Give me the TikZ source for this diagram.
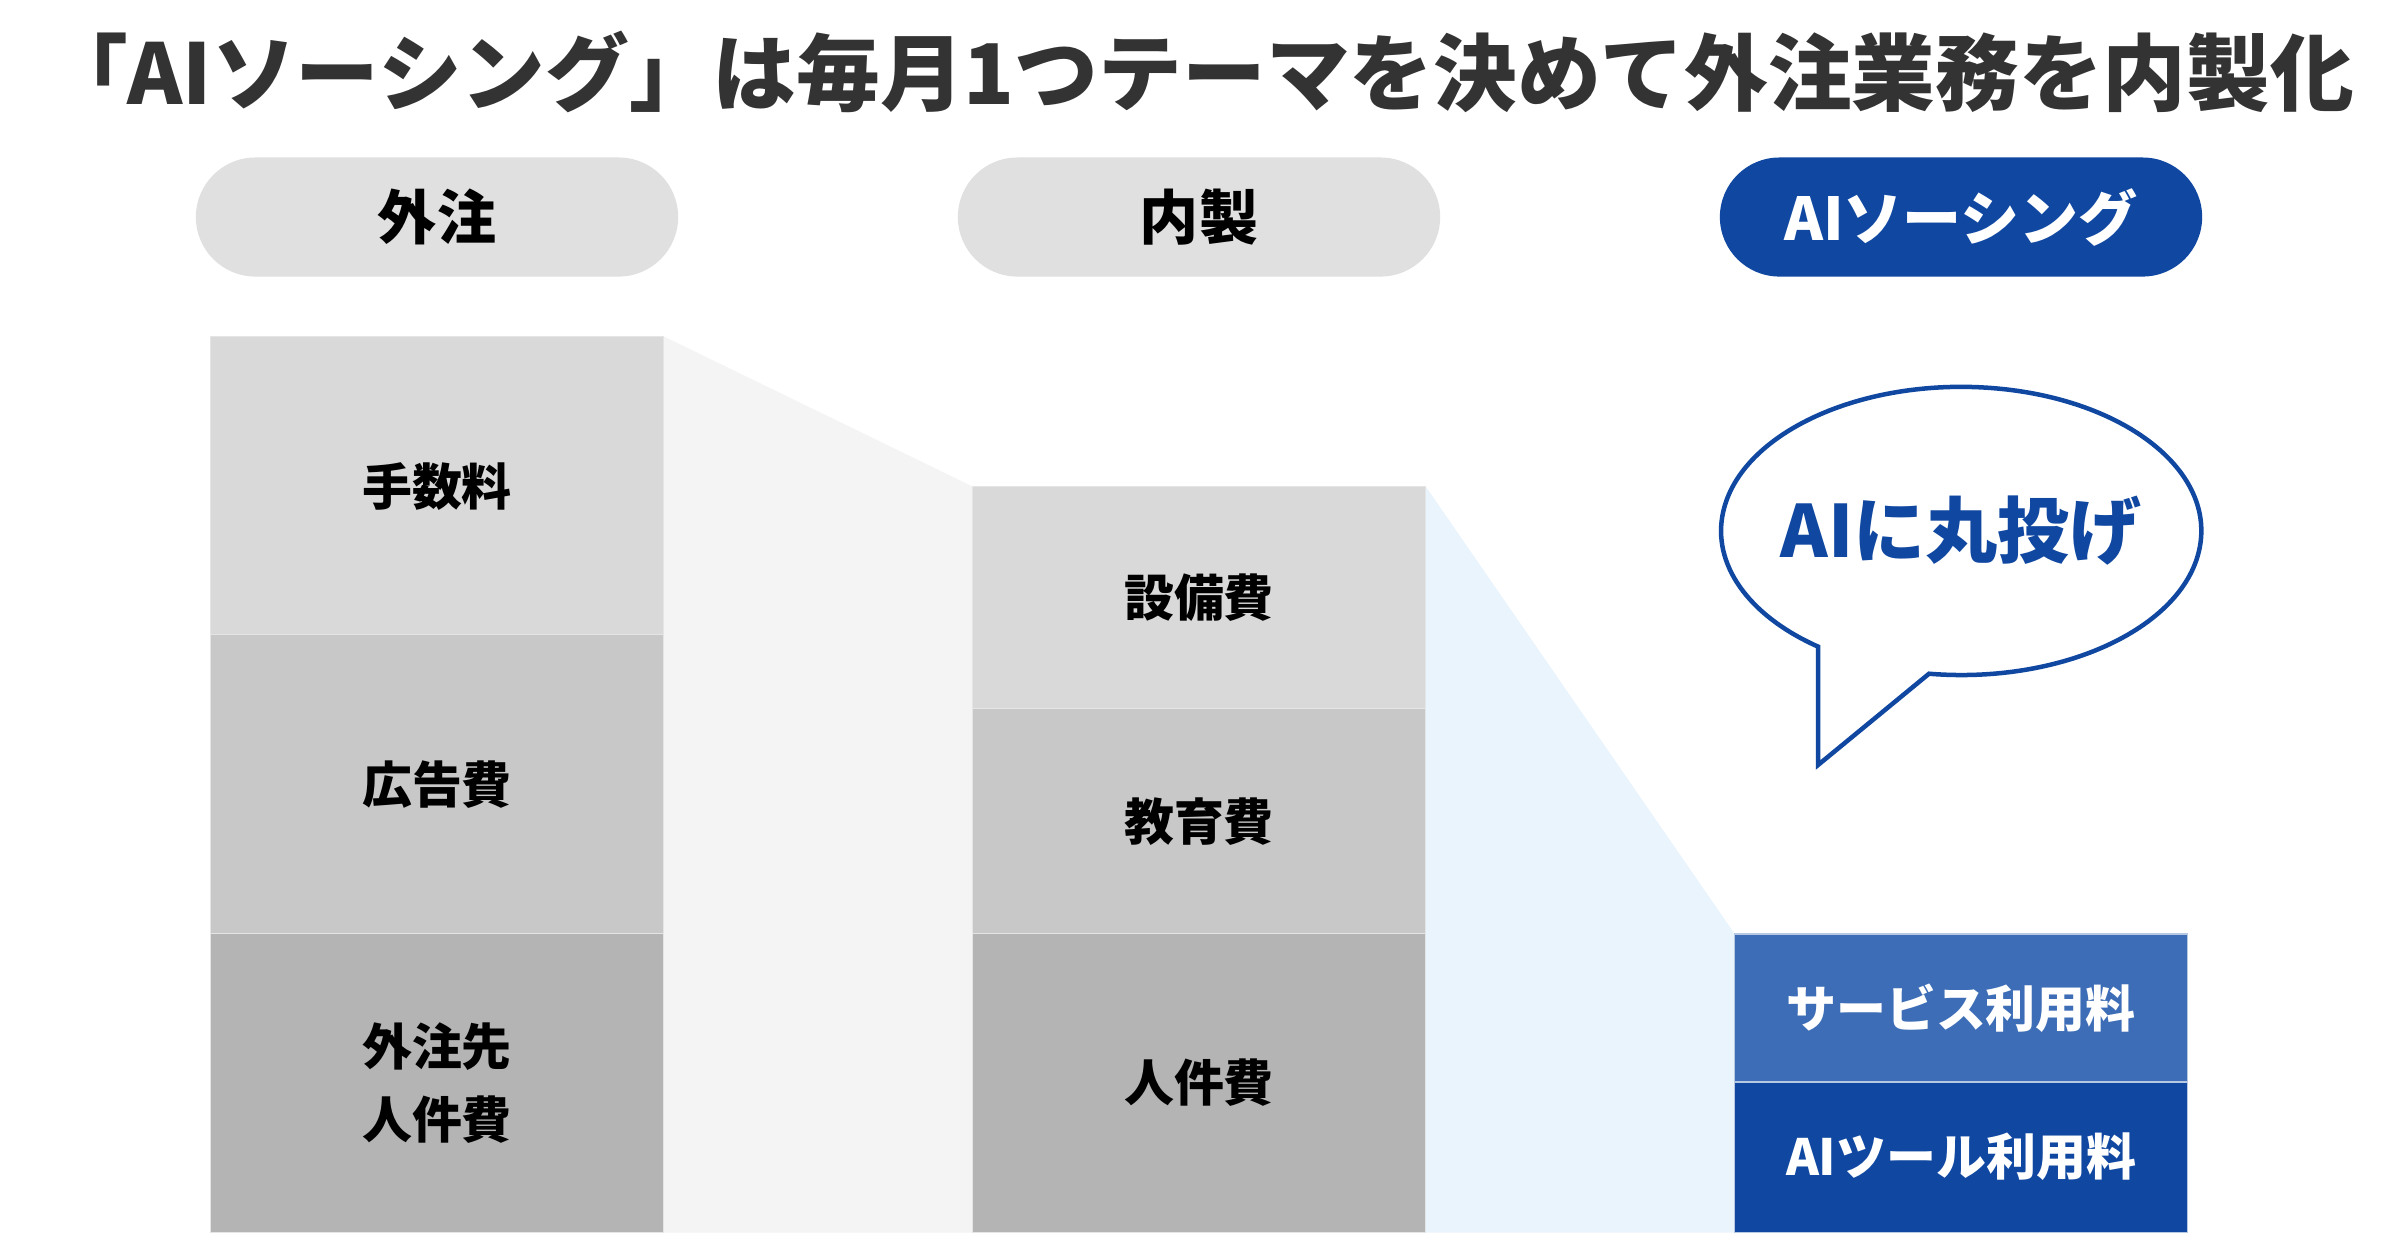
\documentclass[tikz,border=0pt]{standalone}
\usepackage{fontspec}
\setmainfont{Noto Sans CJK JP}
\usetikzlibrary{backgrounds}
\definecolor{aiblue}{HTML}{0F47A1}
\definecolor{midblue}{HTML}{3C6DB6}
\definecolor{pillgray}{HTML}{E0E0E0}
\definecolor{barA}{HTML}{D9D9D9}
\definecolor{barB}{HTML}{C8C8C8}
\definecolor{barC}{HTML}{B4B4B4}
\definecolor{fangray}{HTML}{F4F4F4}
\definecolor{fanblue}{HTML}{EAF4FD}
\definecolor{titlegray}{HTML}{333333}
\tikzset{
  pill/.style={fill=pillgray, rounded corners=0.595cm, minimum width=4.82cm, minimum height=1.19cm, inner sep=0pt, font=\fontsize{16.8pt}{20pt}\selectfont\bfseries, text=black},
  aipill/.style={pill, fill=aiblue, text=white},
  bar/.style={minimum width=4.52cm, inner sep=0pt, draw=white!90!black, line width=0.3pt, font=\fontsize{14.2pt}{20.5pt}\selectfont\bfseries, text=black, align=center},
  bluebar/.style={bar, text=white, draw=white!70!aiblue}
}
\begin{document}
\begin{tikzpicture}[x=0.01cm, y=-0.01cm]
\useasboundingbox (0,0) rectangle (2400,1256);
% title
\node[font=\fontsize{23.8pt}{28pt}\selectfont\bfseries, text=titlegray, inner sep=0pt] (title) at (1199,72) {「AIソーシング」は毎月1つテーマを決めて外注業務を内製化};
% pills
\node[pill] (p1) at (437,217) {外注};
\node[pill] (p2) at (1199,217) {内製};
\node[aipill] (p3) at (1961,217) {AIソーシング};
% left column
\node[bar, fill=barA, minimum height=2.98cm] (L1) at (437,486) {手数料};
\node[bar, fill=barB, minimum height=2.99cm] (L2) at (437,784.5) {広告費};
\node[bar, fill=barC, minimum height=2.98cm] (L3) at (437,1083) {外注先\\人件費};
% middle column
\node[bar, fill=barA, minimum height=2.22cm] (M1) at (1199,598) {設備費};
\node[bar, fill=barB, minimum height=2.25cm] (M2) at (1199,821.5) {教育費};
\node[bar, fill=barC, minimum height=2.98cm] (M3) at (1199,1083) {人件費};
% right column
\node[bluebar, fill=midblue, minimum height=1.48cm] (R1) at (1961,1008) {サービス利用料};
\node[bluebar, fill=aiblue, minimum height=1.50cm] (R2) at (1961,1157) {AIツール利用料};
% fans
\begin{scope}[on background layer]
\fill[white] (0,0) rectangle (2400,1256);
\fill[fangray] (L1.north east) -- (M1.north west) -- (M3.south west) -- (L3.south east) -- cycle;
\fill[fanblue] (M1.north east) -- (R1.north west) -- (R2.south west) -- (M3.south east) -- cycle;
\end{scope}
% speech bubble
\coordinate (bstart) at (1929,673.7);
\coordinate (btip) at (1818,765);
\draw[aiblue, line width=0.045cm, fill=white, line join=miter] (bstart) arc[start angle=262.3, end angle=593.4, x radius=2.4cm, y radius=1.44cm] -- (btip) -- cycle;
\node[font=\fontsize{20.5pt}{24pt}\selectfont\bfseries, text=aiblue] (bubble) at (1961,531) {AIに丸投げ};
\end{tikzpicture}
\end{document}
